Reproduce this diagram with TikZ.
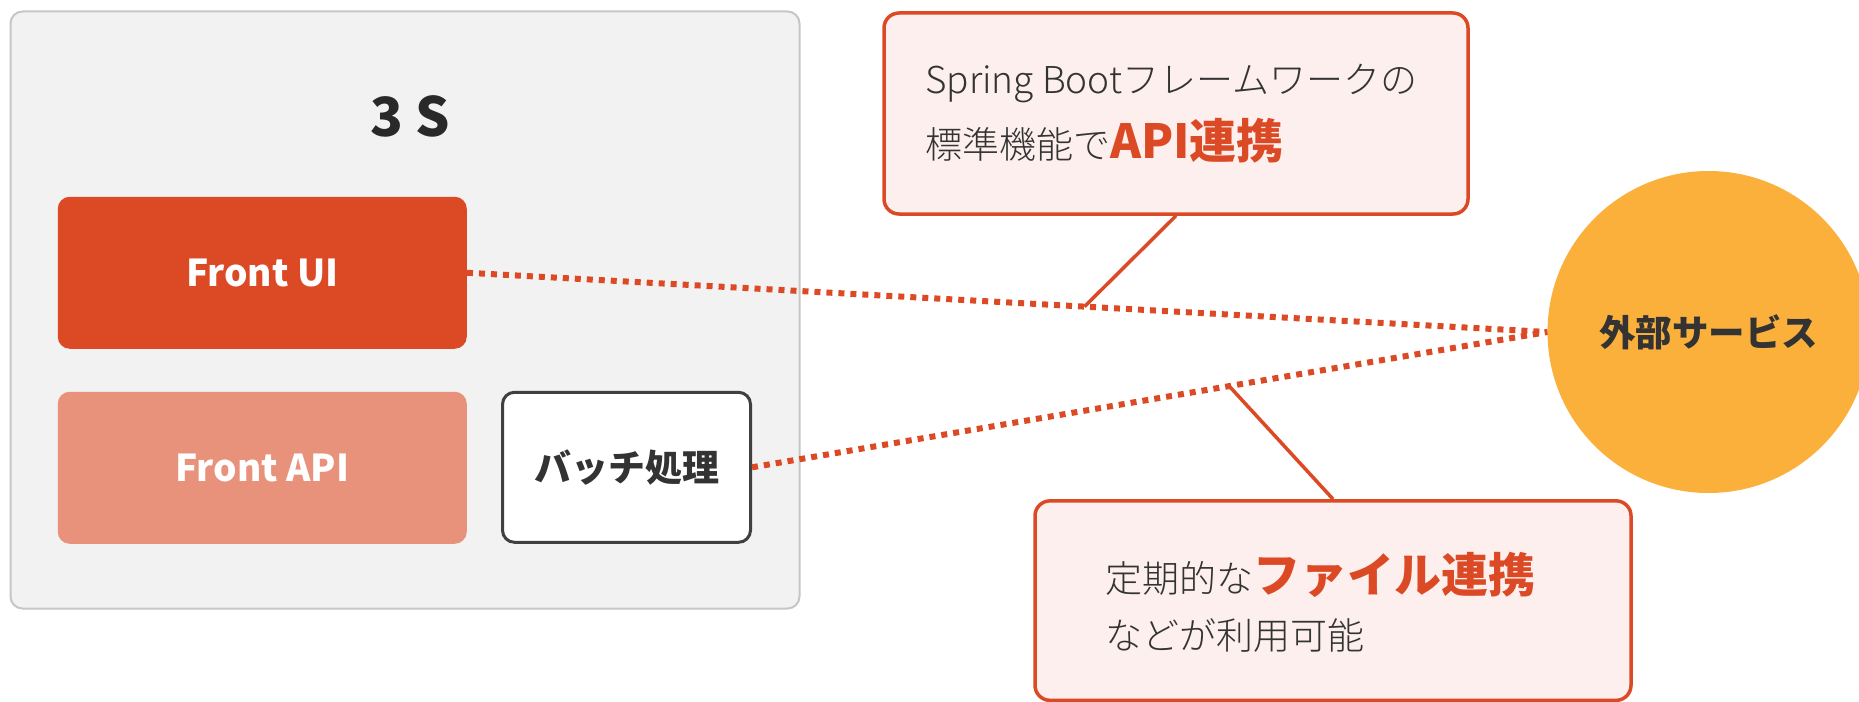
\documentclass[tikz,border=0pt]{standalone}
\usepackage{fontspec}
\setmainfont{Noto Sans CJK JP}
\newfontfamily\lightjp{Noto Sans CJK JP Light}
\usetikzlibrary{calc}
\definecolor{accent}{HTML}{DC4A25}
\definecolor{apifill}{HTML}{E8917B}
\definecolor{outerfill}{HTML}{F2F2F2}
\definecolor{outerline}{HTML}{C6C6C6}
\definecolor{extfill}{HTML}{FBB03C}
\definecolor{callfill}{HTML}{FCEFED}
\definecolor{txt}{HTML}{333333}
\definecolor{batchline}{HTML}{404040}
\newcommand{\fsz}[1]{\fontsize{#1}{#1}\selectfont}
\begin{document}
\begin{tikzpicture}[x=1pt,y=-1pt,
  outerbox/.style={draw=outerline, line width=2pt, fill=outerfill, rounded corners=12pt, inner sep=0pt, minimum width=789pt, minimum height=597pt},
  compbox/.style={rounded corners=12pt, inner sep=0pt, minimum width=409pt, minimum height=152pt, text=white, font=\fsz{37}\bfseries},
  batchbox/.style={draw=batchline, line width=3pt, fill=white, rounded corners=12pt, inner sep=0pt, minimum width=248pt, minimum height=150pt, text=txt, font=\fsz{37}\bfseries},
  extnode/.style={circle, fill=extfill, inner sep=0pt, minimum size=322pt, text=txt, font=\fsz{36.5}\bfseries},
  callbox/.style={draw=accent, line width=3.5pt, fill=callfill, rounded corners=15pt, inner sep=0pt},
  calltext/.style={anchor=base west, inner sep=0pt, text=txt, font=\lightjp\fsz{37}},
  dotline/.style={draw=accent, line width=6pt, dash pattern=on 6pt off 6pt},
  callline/.style={draw=accent, line width=3.5pt},
]
\useasboundingbox (0,0) rectangle (1859,701);
\clip (0,0) rectangle (1859,701);
\fill[white] (0,0) rectangle (1859,701);

\node[outerbox] (sys) at (405,310) {};
\node[anchor=base, inner sep=0pt, text=txt!80!black, font=\fsz{54}\bfseries] (title) at (410.5,136) {3 S};
\node[compbox, fill=accent] (fui) at (262.25,272.75) {Front UI};
\node[compbox, fill=apifill] (fapi) at (262.25,467.75) {Front API};
\node[batchbox] (batch) at (626.5,467.3) {バッチ処理};

\node[extnode] (ext) at (1708.5,332) {外部サービス};

\draw[dotline] (fui.east) -- (ext.west);
\draw[dotline] (batch.east) -- (ext.west);

\node[callbox, minimum width=584pt, minimum height=201pt] (topbox) at (1176,113.5) {};
\node[callbox, minimum width=596pt, minimum height=199.5pt] (botbox) at (1333,600.6) {};

\draw[callline] (topbox.south) -- ($(fui.east)!0.5716!(ext.west)$);
\draw[callline] (botbox.north) -- ($(batch.east)!0.6!(ext.west)$);

\node[calltext] (t1) at (925,93) {Spring Bootフレームワークの};
\node[calltext] (t2) at (925,158) {標準機能で{\color{accent}\normalfont\fsz{47}\bfseries API連携}};
\node[calltext] (b1) at (1105.5,592) {定期的な{\color{accent}\normalfont\fsz{47}\bfseries ファイル連携}};
\node[calltext] (b2) at (1105.5,649) {などが利用可能};
\end{tikzpicture}
\end{document}
